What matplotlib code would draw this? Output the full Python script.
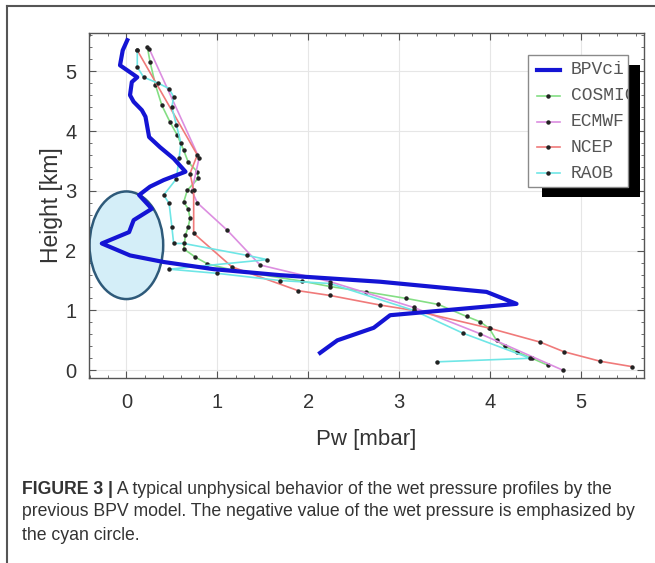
import matplotlib.pyplot as plt
from matplotlib.lines import Line2D
from matplotlib.patches import Ellipse, Rectangle
from matplotlib.ticker import MultipleLocator

# profiles: Pw [mbar] vs height [km]
bpv_pw = [0.01, -0.04, -0.07, 0.12, 0.06, 0.04, 0.08, 0.17, 0.21, 0.25, 0.37, 0.52,
          0.65, 0.41, 0.26, 0.14, 0.28, 0.08, 0.03, -0.27, 0.04, 0.41, 0.96, 1.69,
          2.79, 3.96, 4.29, 2.90, 2.72, 2.32, 2.13]
bpv_h = [5.52, 5.35, 5.10, 4.90, 4.82, 4.60, 4.49, 4.35, 4.24, 3.90, 3.73, 3.54,
         3.32, 3.18, 3.07, 2.93, 2.70, 2.51, 2.31, 2.12, 1.92, 1.81, 1.69, 1.59,
         1.48, 1.31, 1.11, 0.92, 0.71, 0.50, 0.29]

cosmic_pw = [0.23, 0.26, 0.32, 0.39, 0.48, 0.56, 0.63, 0.68, 0.78, 0.79, 0.67, 0.63,
             0.68, 0.70, 0.68, 0.65, 0.63, 0.76, 0.89, 1.18, 1.93, 2.24, 2.64, 3.08,
             3.43, 3.74, 3.89, 3.99, 4.07, 4.16, 4.29, 4.46, 4.64]
cosmic_h = [5.41, 5.16, 4.77, 4.43, 4.15, 3.93, 3.68, 3.48, 3.32, 3.21, 3.01, 2.81,
            2.70, 2.54, 2.40, 2.26, 2.03, 1.89, 1.78, 1.67, 1.49, 1.40, 1.31, 1.20,
            1.10, 0.90, 0.81, 0.70, 0.50, 0.40, 0.31, 0.20, 0.08]

ecmwf_pw = [0.25, 0.80, 0.72, 0.78, 1.11, 1.47, 2.24, 3.16, 3.89, 4.80]
ecmwf_h = [5.38, 3.55, 3.00, 2.80, 2.34, 1.76, 1.48, 1.05, 0.61, 0.00]

ncep_pw = [0.12, 0.78, 0.70, 0.74, 0.74, 1.16, 1.89, 2.24, 2.79, 3.16, 4.00, 4.55,
           4.81, 5.21, 5.56]
ncep_h = [5.35, 3.60, 3.29, 3.01, 2.29, 1.73, 1.33, 1.25, 1.09, 1.00, 0.70, 0.47,
          0.31, 0.15, 0.06]

raob_pw = [0.12, 0.12, 0.19, 0.35, 0.47, 0.52, 0.50, 0.55, 0.60, 0.58, 0.55, 0.41,
           0.47, 0.50, 0.52, 0.63, 1.33, 1.55, 0.47, 1.00, 1.69, 2.24, 3.16, 3.70,
           4.44, 3.41]
raob_h = [5.35, 5.07, 4.90, 4.80, 4.71, 4.57, 4.40, 4.10, 3.80, 3.55, 3.20, 2.93,
          2.79, 2.40, 2.12, 2.12, 1.92, 1.85, 1.69, 1.62, 1.50, 1.45, 1.00, 0.62,
          0.20, 0.14]

labels = ["BPVci", "COSMIC", "ECMWF", "NCEP", "RAOB"]
colors = ["#1414d4", "#84de84", "#dc8ee0", "#f07a7a", "#6fe6e6"]

# circle around the negative wet pressure
circ_center = (0.0, 2.09)
circ_w, circ_h = 0.81, 1.80

caption_bold = "FIGURE 3 |"
caption_lines = [
    " A typical unphysical behavior of the wet pressure profiles by the",
    "previous BPV model. The negative value of the wet pressure is emphasized by",
    "the cyan circle.",
]

fig = plt.figure(figsize=(6.55, 5.63), dpi=100)
ax = fig.add_axes([0.136, 0.3286, 0.847, 0.6128])

ax.add_patch(Ellipse(circ_center, circ_w, circ_h, facecolor="#d4eef8",
                     edgecolor="#2e5a7a", linewidth=1.8, zorder=1))

series = [(cosmic_pw, cosmic_h), (ecmwf_pw, ecmwf_h), (ncep_pw, ncep_h), (raob_pw, raob_h)]
for (pw, h), c in zip(series, colors[1:]):
    ax.plot(pw, h, color=c, lw=1.2, marker="o", ms=2.2, mfc="#222222", mec="#222222", zorder=2)
ax.plot(bpv_pw, bpv_h, color=colors[0], lw=3.0, zorder=3)

ax.set_xlim(-0.41, 5.69)
ax.set_ylim(-0.13, 5.64)
ax.xaxis.set_major_locator(MultipleLocator(1))
ax.xaxis.set_minor_locator(MultipleLocator(0.2))
ax.yaxis.set_major_locator(MultipleLocator(1))
ax.yaxis.set_minor_locator(MultipleLocator(0.2))
ax.tick_params(which="both", direction="in", top=True, right=True, color="#555555")
ax.tick_params(which="major", length=5, labelsize=14.5, labelcolor="#333333")
ax.tick_params(which="minor", length=2.5)
ax.tick_params(axis="x", pad=11)
ax.tick_params(axis="y", pad=9)
for lab in ax.get_xticklabels() + ax.get_yticklabels():
    lab.set_family("Liberation Sans")
ax.grid(True, which="major", color="#e6e6e6", lw=0.8)
ax.set_axisbelow(True)
for s in ax.spines.values():
    s.set_color("#555555")
    s.set_linewidth(1.0)

ax.set_xlabel("Pw [mbar]", fontsize=16, family="Liberation Sans", color="#333333", labelpad=12)
ax.set_ylabel("Height [km]", fontsize=16.5, family="Liberation Sans", color="#333333", labelpad=2)

# legend box with black drop shadow, labels clipped by the box
ax.add_patch(Rectangle((0.816, 0.525), 0.177, 0.382, transform=ax.transAxes,
                       facecolor="black", edgecolor="none", zorder=5))
box = Rectangle((0.791, 0.554), 0.180, 0.382, transform=ax.transAxes,
                facecolor="white", edgecolor="#8a8a8a", lw=1.0, zorder=6)
ax.add_patch(box)
for i, (lab, c) in enumerate(zip(labels, colors)):
    yy = 1 - (70 + 25.8 * i - 33) / 345
    if i == 0:
        ax.plot([0.807, 0.849], [yy, yy], color=c, lw=3.0, transform=ax.transAxes,
                zorder=7, clip_on=False)
    else:
        ax.plot([0.807, 0.849], [yy, yy], color=c, lw=1.2, transform=ax.transAxes,
                zorder=7, clip_on=False)
        ax.plot([0.828], [yy], marker="o", ms=2.2, color="#222222",
                transform=ax.transAxes, zorder=7, clip_on=False)
    t = ax.text(0.868, yy, lab, transform=ax.transAxes, va="center", ha="left",
                fontsize=13, family="Liberation Mono", color="#555555", zorder=7,
                clip_on=True)
    t.set_clip_path(box)

# figure frame (left and top)
fig.add_artist(Line2D([0.0107, 0.0107], [0.0, 0.989], color="#555555", lw=1.5,
                      transform=fig.transFigure))
fig.add_artist(Line2D([0.0107, 1.0], [0.989, 0.989], color="#555555", lw=1.5,
                      transform=fig.transFigure))

# caption
cap_font = "Liberation Sans"
cap_size = 12.7
y0 = 1 - 490 / 563
bt = fig.text(0.034, y0, caption_bold, fontsize=cap_size, weight="bold", family=cap_font,
              color="#333333", va="center")
fig.canvas.draw()
bb = bt.get_window_extent()
fig.text(bb.x1 / fig.bbox.width, y0, caption_lines[0], fontsize=cap_size, family=cap_font,
         color="#333333", va="center")
fig.text(0.034, 1 - 512 / 563, caption_lines[1], fontsize=cap_size, family=cap_font,
         color="#333333", va="center")
fig.text(0.034, 1 - 535 / 563, caption_lines[2], fontsize=cap_size, family=cap_font,
         color="#333333", va="center")

fig.savefig("out.png", dpi=100)
